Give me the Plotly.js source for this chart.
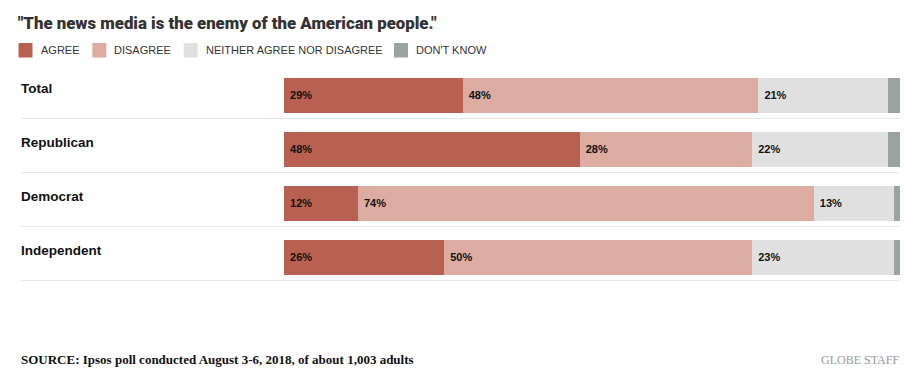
<!DOCTYPE html>
<html>
<head>
<meta charset="utf-8">
<script src="https://cdn.plot.ly/plotly-3.0.1.min.js"></script>
<style>
  html, body { margin: 0; padding: 0; background: #fff; }
  #chart { width: 922px; height: 380px; }
</style>
</head>
<body>
<div id="chart"></div>
<script>
// ---- data ----
const categories = ["Total", "Republican", "Democrat", "Independent"];
const seriesNames = ["AGREE", "DISAGREE", "NEITHER AGREE NOR DISAGREE", "DON'T KNOW"];
const agree     = [29, 48, 12, 26];
const disagree  = [48, 28, 74, 50];
const neither   = [21, 22, 13, 23];
const dontKnow  = [2, 2, 1, 1];
const seriesColors = ["#b86152", "#dbac9f", "#e0e0e0", "#9aa49f"];
const titleText = '"The news media is the enemy of the American people."';
const sourceText = "SOURCE: Ipsos poll conducted August 3-6, 2018, of about 1,003 adults";
const creditText = "GLOBE STAFF";

// ---- layout geometry ----
const W = 922, H = 380;
const M = { l: 284, r: 22, t: 68, b: 96 };
const PW = W - M.l - M.r, PH = H - M.t - M.b;
const px = p => (p - M.l) / PW;          // pixel x -> paper x
const py = p => 1 - (p - M.t) / PH;      // pixel y -> paper y

const seriesValues = [agree, disagree, neither, dontKnow];
const traces = seriesValues.map((vals, i) => ({
  type: "bar",
  orientation: "h",
  name: seriesNames[i],
  y: categories,
  x: vals,
  marker: { color: seriesColors[i], line: { width: 0 } },
  texttemplate: i < 3 ? "\u00a0%{x}%" : "",
  textposition: i < 3 ? "inside" : "none",
  insidetextanchor: "start",
  constraintext: "none",
  textfont: { family: "Liberation Sans, Arial, sans-serif", size: 11, color: "#111", weight: "bold" },
  hoverinfo: "skip",
  showlegend: false
}));

const shapes = [];
const annotations = [];

// row separators and row labels
categories.forEach((c, i) => {
  const yPix = M.t + 54 * i + 27 + 23.5;
  shapes.push({
    type: "line", xref: "paper", yref: "paper",
    x0: px(20), x1: px(900), y0: py(yPix), y1: py(yPix),
    line: { color: "#e8e8e8", width: 1 }
  });
  annotations.push({
    xref: "paper", yref: "y", x: px(19), y: c, yshift: 7,
    xanchor: "left", yanchor: "middle", showarrow: false,
    text: c,
    font: { family: "Liberation Sans, Arial, sans-serif", size: 13.5, color: "#111", weight: "bold" }
  });
});

// legend (custom, to match the reference spacing)
const swatchX = [18.5, 92.3, 183.7, 394];
seriesNames.forEach((n, i) => {
  shapes.push({
    type: "rect", xref: "paper", yref: "paper",
    x0: px(swatchX[i]), x1: px(swatchX[i] + 14),
    y0: py(43), y1: py(57.5),
    fillcolor: seriesColors[i], line: { width: 0 }
  });
  annotations.push({
    xref: "paper", yref: "paper", x: px(swatchX[i] + 20), y: py(50.5),
    xanchor: "left", yanchor: "middle", showarrow: false,
    text: n,
    font: { family: "Liberation Sans, Arial, sans-serif", size: 11, color: "#333" }
  });
});

// footer
annotations.push({
  xref: "paper", yref: "paper", x: px(19), y: py(359.5),
  xanchor: "left", yanchor: "middle", showarrow: false,
  text: sourceText,
  font: { family: "Liberation Serif, Times New Roman, serif", size: 13, color: "#111", weight: "bold" }
});
annotations.push({
  xref: "paper", yref: "paper", x: px(901), y: py(359.5),
  xanchor: "right", yanchor: "middle", showarrow: false,
  text: creditText,
  font: { family: "Liberation Serif, Times New Roman, serif", size: 12, color: "#999" }
});

const layout = {
  width: W, height: H,
  margin: M,
  paper_bgcolor: "#fff",
  plot_bgcolor: "#fff",
  barmode: "stack",
  bargap: 1 - 35 / 54,
  showlegend: false,
  title: {
    text: titleText,
    xref: "container", yref: "container",
    x: 18 / W, xanchor: "left",
    y: 1 - 23 / H, yanchor: "middle",
    font: { family: "Roboto, Liberation Sans, sans-serif", size: 16.8, color: "#333", weight: 900 }
  },
  xaxis: { range: [0, 100], visible: false, fixedrange: true },
  yaxis: { autorange: "reversed", visible: false, fixedrange: true, type: "category" },
  shapes: shapes,
  annotations: annotations
};

Plotly.newPlot("chart", traces, layout, { displayModeBar: false, staticPlot: true });
</script>
</body>
</html>
